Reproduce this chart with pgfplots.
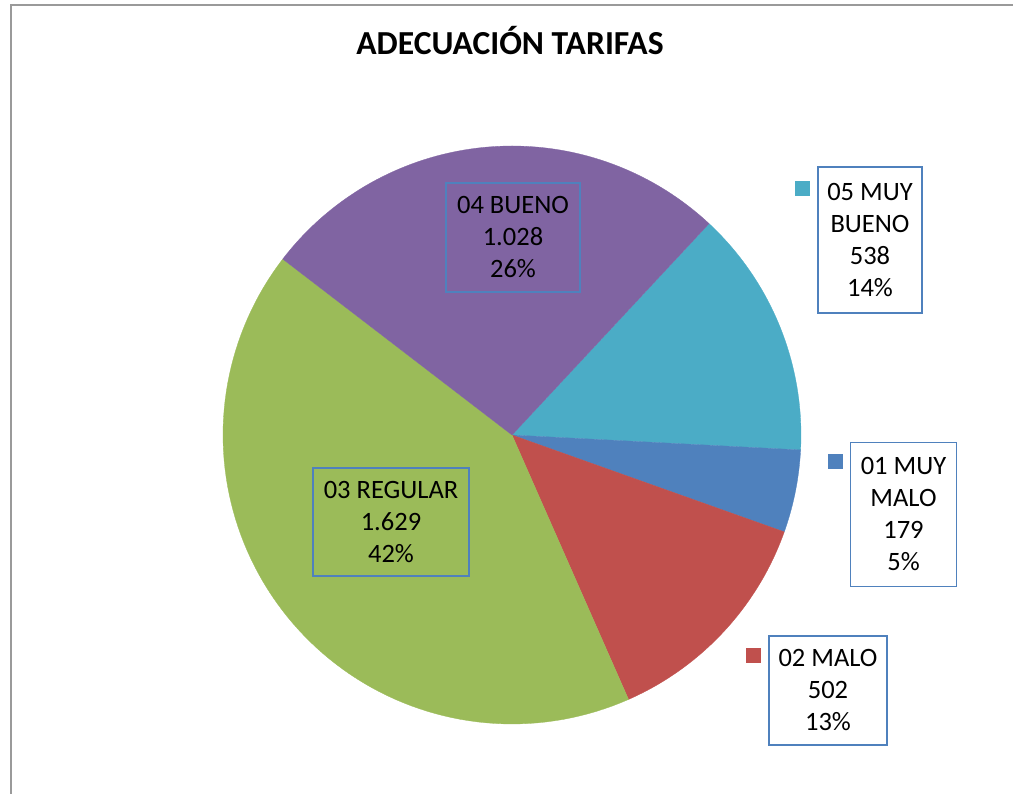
\documentclass[border=0pt]{standalone}
\usepackage{fontspec}
\setmainfont{Carlito}
\usepackage{pgfplots}
\pgfplotsset{compat=1.18}

\definecolor{cMB}{HTML}{4BACC6}
\definecolor{cMM}{HTML}{4F81BD}
\definecolor{cMA}{HTML}{C0504D}
\definecolor{cRE}{HTML}{9BBB59}
\definecolor{cBU}{HTML}{8064A2}
\definecolor{lblborder}{HTML}{4F81BD}
\definecolor{frame}{HTML}{9A9A9A}

% pie geometry in picture units (1 unit = 1pt)
\def\cx{512}\def\cy{359}\def\rad{289}
\def\total{3876}
\xdef\curangle{47}

% one slice, clockwise from the current angle
\newcommand\slice[2]{%
  \pgfmathsetmacro\endangle{\curangle-#1/\total*360}%
  \edef\doslice{\noexpand\addplot[fill=#2, draw=#2, line width=0.3pt,
      domain=\endangle:\curangle, samples=90, variable=\noexpand\t]
      ({\cx+\rad*cos(\noexpand\t)},{\cy+\rad*sin(\noexpand\t)})
      -- (axis cs:\cx,\cy) -- cycle;}%
  \doslice
  \xdef\curangle{\endangle}%
}

\tikzset{lbl/.style={draw=lblborder, line width=1.8pt, align=center, inner sep=0pt,
  font=\fontsize{26.5}{32}\selectfont}}

\begin{document}
\begin{tikzpicture}
\begin{axis}[
  width=1013pt, height=794pt, scale only axis,
  xmin=0, xmax=1013, ymin=0, ymax=794,
  hide axis, clip=false,
]
% values: 05 MUY BUENO, 01 MUY MALO, 02 MALO, 03 REGULAR, 04 BUENO
\slice{538}{cMB}
\slice{179}{cMM}
\slice{502}{cMA}
\slice{1629}{cRE}
\slice{1028}{cBU}

% chart frame
\draw[frame, line width=2.6pt] (axis cs:11,0) -- (axis cs:11,789) -- (axis cs:1013,789);

\node[font=\fontsize{33.6}{40}\selectfont\bfseries, anchor=base] at (axis cs:510,739) {ADECUACIÓN TARIFAS};

\node[lbl, minimum width=134pt, minimum height=109pt] at (axis cs:513,556.5) {04 BUENO\\1.028\\26\%};
\node[lbl, minimum width=104pt, minimum height=146pt] at (axis cs:870,554) {05 MUY\\BUENO\\538\\14\%};
\node[lbl, minimum width=106pt, minimum height=144pt] at (axis cs:903.5,279.5) {01 MUY\\MALO\\179\\5\%};
\node[lbl, minimum width=118pt, minimum height=109pt] at (axis cs:828,103.5) {02 MALO\\502\\13\%};
\node[lbl, minimum width=156pt, minimum height=108pt] at (axis cs:391,272) {03 REGULAR\\1.629\\42\%};

% legend keys beside the outside labels
\addplot[only marks, mark=square*, mark size=7pt, mark options={fill=cMB, draw=cMB}] coordinates {(802.5,606)};
\addplot[only marks, mark=square*, mark size=7pt, mark options={fill=cMM, draw=cMM}] coordinates {(835.5,332.5)};
\addplot[only marks, mark=square*, mark size=7pt, mark options={fill=cMA, draw=cMA}] coordinates {(753.5,138.5)};
\end{axis}
\pgfresetboundingbox
\path (0,0) rectangle (1013pt,794pt);
\end{tikzpicture}
\end{document}
